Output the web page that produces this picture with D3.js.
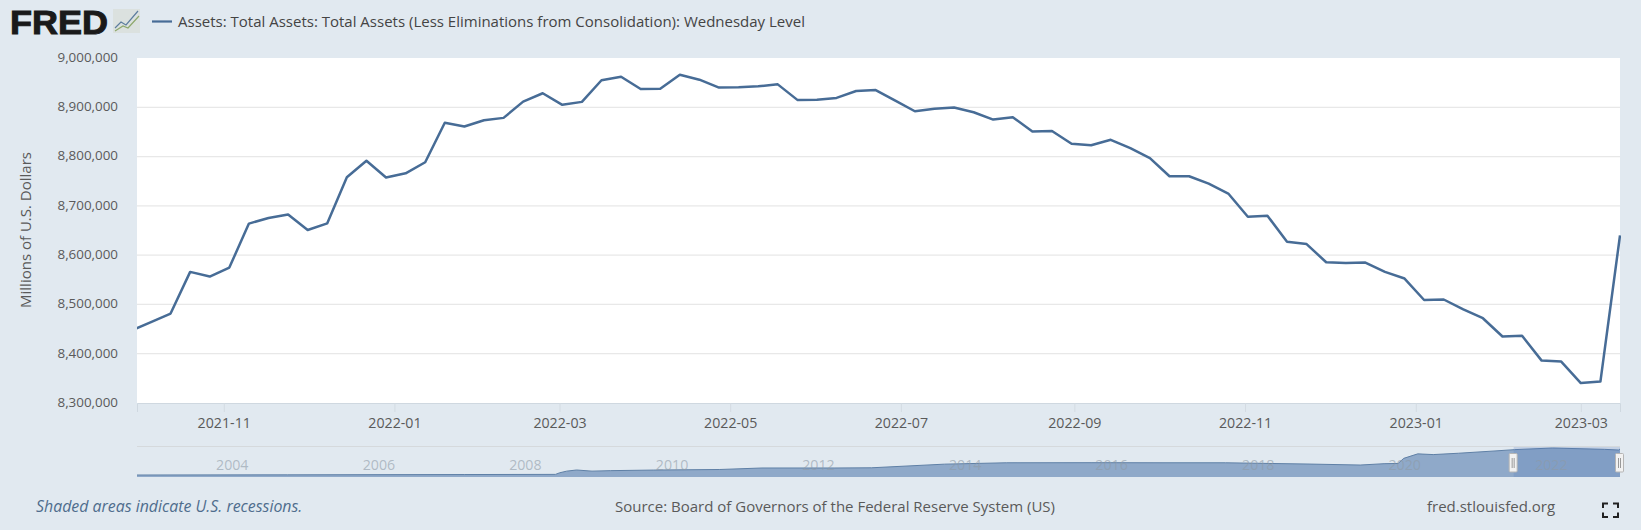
<!DOCTYPE html>
<html><head><meta charset="utf-8">
<script src="https://cdn.jsdelivr.net/npm/d3@7"></script>
<style>
html,body{margin:0;padding:0;background:#e1e9f0;}
svg{display:block;font-family:"Open Sans",sans-serif;}
</style></head><body><svg id="c" width="1641" height="530"></svg>
<script>
const firstWeek = "2021-09-29";
const assets = [8447000,8464000,8481500,8566000,8556500,8574800,8664000,8675500,8682500,8651000,8664500,8758000,8791500,8757500,8766000,8788500,8868500,8861000,8873800,8878500,8911500,8928500,8905000,8911000,8954800,8962000,8937000,8937800,8966000,8956000,8940000,8940800,8942500,8946500,8915000,8915500,8919000,8933000,8935000,8913500,8892000,8896800,8899500,8890000,8875000,8880000,8851000,8852000,8826000,8823000,8834000,8817000,8797000,8760000,8760000,8745000,8725000,8678000,8680000,8627000,8622500,8585500,8584000,8585000,8566000,8552500,8509000,8510000,8490000,8472000,8435000,8436500,8386000,8384000,8340500,8343500,8640000];
const navDates = ["2002-12-18","2005-01-05","2007-06-06","2008-09-03","2008-09-24","2008-10-29","2008-12-17","2009-03-04","2009-06-03","2010-01-06","2010-12-01","2011-06-29","2012-06-27","2012-12-26","2013-12-25","2014-10-29","2015-12-30","2016-12-28","2017-10-25","2018-12-26","2019-08-28","2019-12-25","2020-03-04","2020-04-01","2020-06-10","2020-08-26","2020-12-30","2021-06-30","2021-10-06","2022-04-13","2022-12-28","2023-03-08","2023-03-15"];
const navValues = [720000,770000,860000,910000,1400000,1900000,2250000,1900000,2050000,2230000,2400000,2860000,2860000,2920000,4030000,4450000,4480000,4450000,4450000,4050000,3760000,4170000,4240000,5800000,7170000,6950000,7360000,8060000,8463000,8961400,8550000,8341900,8638800];
const yTicks = [8300000,8400000,8500000,8600000,8700000,8800000,8900000,9000000];
const xTickDates = ["2021-11-01","2022-01-01","2022-03-01","2022-05-01","2022-07-01","2022-09-01","2022-11-01","2023-01-01","2023-03-01"];
const navYears = [2004,2006,2008,2010,2012,2014,2016,2018,2020,2022];
const seriesTitle = "Assets: Total Assets: Total Assets (Less Eliminations from Consolidation): Wednesday Level";
const yTitle = "Millions of U.S. Dollars";
const recessionNote = "Shaded areas indicate U.S. recessions.";
const sourceNote = "Source: Board of Governors of the Federal Reserve System (US)";
const siteNote = "fred.stlouisfed.org";

const parse = d3.utcParse("%Y-%m-%d");
const fmtX = d3.utcFormat("%Y-%m");
const L=137,R=1620,T=58,B=403;
const svg = d3.select("#c");
const textCol="#5a5a5a";
const week0 = parse(firstWeek);
const series = assets.map((v,i)=>({d:d3.utcDay.offset(week0,i*7),v}));

const x = d3.scaleUtc().domain([parse("2021-10-01"),parse("2023-03-15")]).range([L,R]);
const y = d3.scaleLinear().domain([8300000,9000000]).range([B,T]);

svg.append("rect").attr("x",L).attr("y",T).attr("width",R-L).attr("height",B-T).attr("fill","#fff");
svg.append("clipPath").attr("id","pc").append("rect").attr("x",L).attr("y",T-2).attr("width",R-L+1).attr("height",B-T+4);

const yAxis = d3.axisLeft(y).tickValues(yTicks).tickSize(0).tickPadding(0).tickFormat(d3.format(","));
const gy = svg.append("g").attr("transform",`translate(118,-1)`).call(yAxis);
gy.select(".domain").remove();
gy.selectAll("text").attr("fill",textCol).attr("font-size",13.4).attr("font-family",'"Open Sans",sans-serif').attr("dy","0.32em");
svg.append("g").selectAll("line").data(yTicks.filter(t=>t>8300000&&t<9000000)).join("line")
  .attr("x1",L).attr("x2",R).attr("y1",d=>y(d)).attr("y2",d=>y(d)).attr("stroke","#e8e8e8").attr("stroke-width",1.2);

const xAxis = d3.axisBottom(x).tickValues(xTickDates.map(parse)).tickSize(9).tickPadding(6).tickFormat(fmtX);
const gx = svg.append("g").attr("transform",`translate(0,${B})`).call(xAxis);
gx.select(".domain").attr("stroke","#cfd8e0").attr("stroke-width",1);
gx.selectAll("line").attr("stroke","#d3dbe2");
gx.selectAll("text").attr("fill",textCol).attr("font-size",14.2).attr("font-family",'"Open Sans",sans-serif');

svg.append("path").datum(series).attr("clip-path","url(#pc)").attr("fill","none").attr("stroke","#476c96").attr("stroke-width",2.5).attr("stroke-linejoin","round")
  .attr("d",d3.line().x(d=>x(d.d)).y(d=>y(d.v)));

svg.append("text").attr("transform","translate(31,230) rotate(-90)").attr("text-anchor","middle").attr("fill",textCol).attr("font-size",15).text(yTitle);

// navigator
const NT=447,NB=477;
const nx = d3.scaleUtc().domain([parse("2002-12-18"),parse("2023-03-15")]).range([L,R]);
const ny = d3.scaleLinear().domain([720000,8961400]).range([475,448]);
const nav = navDates.map((d,i)=>({d:parse(d),v:navValues[i]}));
svg.append("line").attr("x1",L).attr("x2",R).attr("y1",NT-.5).attr("y2",NT-.5).attr("stroke","#d5d9dc");
svg.append("path").datum(nav).attr("fill","#8fa9c9")
  .attr("d",d3.area().x(d=>nx(d.d)).y0(NB).y1(d=>ny(d.v)));
svg.append("path").datum(nav).attr("fill","none").attr("stroke","#5f80a6").attr("stroke-width",1)
  .attr("d",d3.line().x(d=>nx(d.d)).y(d=>ny(d.v)));
const sel0 = nx(parse("2021-10-01")), sel1 = nx(parse("2023-03-15"));
svg.append("rect").attr("x",sel0).attr("y",NT).attr("width",sel1-sel0).attr("height",NB-NT).attr("fill","#4a72b8").attr("fill-opacity",.2);
svg.append("g").selectAll("text").data(navYears).join("text")
  .attr("x",d=>nx(new Date(Date.UTC(d,0,1)))+3).attr("y",470).attr("fill","#8e9aa6").attr("fill-opacity",.6).attr("font-size",14.2).text(d=>d);
[sel0,sel1].forEach(p=>{
  const g=svg.append("g").attr("transform",`translate(${p},0)`);
  g.append("rect").attr("x",-4.5).attr("y",453.5).attr("width",8).attr("height",18.5).attr("rx",1).attr("fill","#f2f2f2").attr("stroke","#b5b5b5");
  [-1.5,0.5].forEach(o=>g.append("line").attr("x1",o).attr("x2",o).attr("y1",458).attr("y2",468).attr("stroke","#999"));
});

// header
svg.append("line").attr("x1",152).attr("x2",172).attr("y1",21.5).attr("y2",21.5).attr("stroke","#476c96").attr("stroke-width",2.2);
svg.append("text").attr("x",178).attr("y",27).attr("fill","#444").attr("font-size",15).attr("font-weight",500).text(seriesTitle);
const logo=svg.append("g");
logo.append("text").attr("x",10).attr("y",34).attr("font-family",'"Liberation Sans",sans-serif').attr("font-weight",700).attr("font-size",34).attr("fill","#1a1a1a").attr("stroke","#1a1a1a").attr("stroke-width",1).attr("textLength",98).attr("lengthAdjust","spacingAndGlyphs").text("FRED");
logo.append("rect").attr("x",113).attr("y",9).attr("width",27).attr("height",24).attr("fill","#dbe1df");
logo.append("path").attr("d","M115 28 L121 22 L126 25 L138 11").attr("fill","none").attr("stroke","#5d7d9e").attr("stroke-width",1.2);
logo.append("path").attr("d","M115 31 L123 26 L128 28 L139 16").attr("fill","none").attr("stroke","#8ea86c").attr("stroke-width",1.2);

// footer
svg.append("text").attr("x",36).attr("y",512).attr("fill","#4f6d8d").attr("font-size",15.9).attr("font-style","italic").text(recessionNote);
svg.append("text").attr("x",835).attr("y",512).attr("text-anchor","middle").attr("fill",textCol).attr("font-size",15).text(sourceNote);
svg.append("text").attr("x",1427).attr("y",512).attr("fill",textCol).attr("font-size",15).text(siteNote);
svg.append("path").attr("d","M1603 508 V503.5 H1608 M1613 503.5 H1618 V508 M1618 512.5 V517 H1613 M1608 517 H1603 V512.5").attr("fill","none").attr("stroke","#222").attr("stroke-width",2);
</script></body></html>
